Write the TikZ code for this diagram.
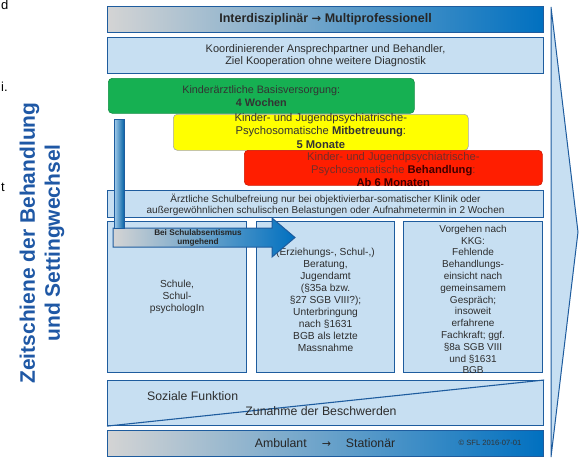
\documentclass[tikz,border=0pt]{standalone}
\usepackage{fontspec}
\setmainfont{Liberation Sans}
\usetikzlibrary{shapes.geometric}
\definecolor{bord}{RGB}{30,92,158}
\definecolor{lblue}{RGB}{199,223,242}
\definecolor{gblue}{RGB}{0,112,192}
\definecolor{ggrey}{RGB}{212,212,212}
\definecolor{txt}{RGB}{45,45,45}
\definecolor{titleblue}{RGB}{31,88,165}
\definecolor{mygreen}{RGB}{22,176,82}
\definecolor{myyellow}{RGB}{255,255,0}
\definecolor{myred}{RGB}{255,30,0}
\definecolor{redtxt}{RGB}{115,45,40}
\tikzset{
  box/.style={draw=bord, fill=lblue, line width=1.1pt, inner sep=0pt, anchor=north west},
  gbar/.style={draw=bord, line width=1.1pt, inner sep=0pt, anchor=north west, left color=ggrey, right color=gblue},
  rbox/.style={rounded corners=4pt, line width=0.6pt, inner sep=0pt, anchor=north west},
  lbl/.style={text=txt, align=center, inner sep=0pt},
}
\begin{document}
\begin{tikzpicture}[x=1pt,y=-1pt]
\useasboundingbox (0,0) rectangle (585,459);
% stray fragments at left edge
\node[anchor=north west, inner sep=0pt, font=\fontsize{13}{15}\selectfont] (fa) at (1,0) {d};
\node[anchor=north west, inner sep=0pt, font=\fontsize{13}{15}\selectfont] (fb) at (1,82) {i.};
\node[anchor=north west, inner sep=0pt, font=\fontsize{13}{15}\selectfont] (fc) at (1,183) {t};
% big right arrow
\filldraw[draw=bord, fill=lblue, line width=1pt] (551,7) coordinate (ra) -- (578,232) coordinate (rt) -- (551,457) coordinate (rb) -- cycle;
% vertical title
\node[rotate=90, align=center, text=titleblue, font=\fontsize{21}{25}\selectfont\bfseries, inner sep=0pt] (vt) at (42,243) {Zeitschiene der Behandlung\\und Settingwechsel};
% top bar
\node[gbar, minimum width=436pt, minimum height=26pt] (top) at (107,6) {};
\node[lbl, text=black!85, font=\fontsize{12.5}{14}\selectfont\bfseries] (topt) at (top.center) {Interdisziplinär {\fontspec{DejaVu Sans}\fontsize{11.5}{14}\selectfont\bfseries→} Multiprofessionell};
% second box
\node[box, minimum width=436pt, minimum height=36pt] (koord) at (107,37) {};
\node[lbl, font=\fontsize{11}{12}\selectfont] (koordt) at (koord.center) {Koordinierender Ansprechpartner und Behandler,\\Ziel Kooperation ohne weitere Diagnostik};
% green
\node[rbox, fill=mygreen, draw=mygreen!80!black, minimum width=306pt, minimum height=35pt] (green) at (108,78) {};
\node[lbl, text=black!80, font=\fontsize{10.8}{13}\selectfont] (greent) at (green.center) {Kinderärztliche Basisversorgung:\\\textbf{4 Wochen}};
% yellow
\node[rbox, fill=myyellow, draw=gray!70, minimum width=295pt, minimum height=36pt] (yellow) at (173,114) {};
\node[lbl, text=black!80, font=\fontsize{11.2}{13.6}\selectfont] (yellowt) at ([yshift=1.5pt]yellow.center) {Kinder- und Jugendpsychiatrische-\\Psychosomatische \textbf{Mitbetreuung}:\\\textbf{5 Monate}};
% red
\node[rbox, fill=myred, draw=myred!80!black, minimum width=298pt, minimum height=35pt] (red) at (244,150) {};
\node[lbl, text=redtxt, font=\fontsize{11.2}{12.8}\selectfont] (redt) at ([yshift=-1.5pt]red.center) {Kinder- und Jugendpsychiatrische-\\Psychosomatische \textcolor{black!75!red}{\textbf{Behandlung}}:\\\textcolor{black!75!red}{\textbf{Ab 6 Monaten}}};
% aerztliche
\node[box, minimum width=436pt, minimum height=27pt] (aerzt) at (107,190) {};
\node[lbl, font=\fontsize{10}{11}\selectfont] (aerztt) at ([yshift=-1pt]aerzt.center) {Ärztliche Schulbefreiung nur bei objektivierbar-somatischer Klinik oder\\außergewöhnlichen schulischen Belastungen oder Aufnahmetermin in 2 Wochen};
% three boxes
\node[box, minimum width=139pt, minimum height=151pt] (b1) at (107,221) {};
\node[box, minimum width=138pt, minimum height=151pt] (b2) at (256,221) {};
\node[box, minimum width=139pt, minimum height=151pt] (b3) at (403,221) {};
\node[lbl, font=\fontsize{10.2}{12.3}\selectfont] (b1t) at (b1.center) {Schule,\\Schul-\\psychologIn};
\node[lbl, font=\fontsize{10.2}{12}\selectfont] (b2t) at ([yshift=-3pt]b2.center) {(Erziehungs-, Schul-,)\\Beratung,\\Jugendamt\\(§35a bzw.\\§27 SGB VIII?);\\Unterbringung\\nach §1631\\BGB als letzte\\Massnahme};
\node[lbl, font=\fontsize{10}{11.8}\selectfont] (b3t) at ([yshift=-2.5pt]b3.center) {Vorgehen nach\\KKG:\\Fehlende\\Behandlungs-\\einsicht nach\\gemeinsamem\\Gespräch;\\insoweit\\erfahrene\\Fachkraft; ggf.\\§8a SGB VIII\\und §1631\\BGB};
% horizontal arrow
\coordinate (ha) at (113,228);
\shadedraw[draw=bord, line width=1pt, left color=ggrey, right color=gblue] (ha) -- (272,228) -- (272,218) -- (295,237.5) coordinate (htip) -- (272,257) -- (272,247) -- (113,247) -- cycle;
\node[lbl, text=black!85, font=\fontsize{8.2}{9.5}\selectfont\bfseries] (harrt) at (198,238) {Bei Schulabsentismus\\umgehend};
% vertical bar
\node[draw=bord, line width=1pt, anchor=north west, minimum width=10pt, minimum height=109pt, inner sep=0pt, left color=lblue!80!gblue, right color=gblue!85!black] (vbar) at (114,119) {};
% soziale box
\node[box, minimum width=436pt, minimum height=45pt] (soz) at (107,380) {};
\draw[draw=bord, line width=1.1pt] (soz.south west) -- (soz.north east);
\node[lbl, anchor=west, font=\fontsize{12.3}{14}\selectfont] (sozt) at (147,396) {Soziale Funktion};
\node[lbl, font=\fontsize{12.3}{14}\selectfont] (zunt) at (321,411) {Zunahme der Beschwerden};
% bottom bar
\node[gbar, minimum width=436pt, minimum height=26pt] (bot) at (107,430) {};
\node[lbl, text=black!85, font=\fontsize{12.3}{14}\selectfont] (bott) at (325,443) {Ambulant\hspace{15pt}{\fontspec{DejaVu Sans}\fontsize{11}{13}\selectfont→}\hspace{15pt}Stationär};
\node[lbl, text=black!80, font=\fontsize{7.6}{9}\selectfont] (copy) at (490,443) {© SFL 2016-07-01};
\end{tikzpicture}
\end{document}
